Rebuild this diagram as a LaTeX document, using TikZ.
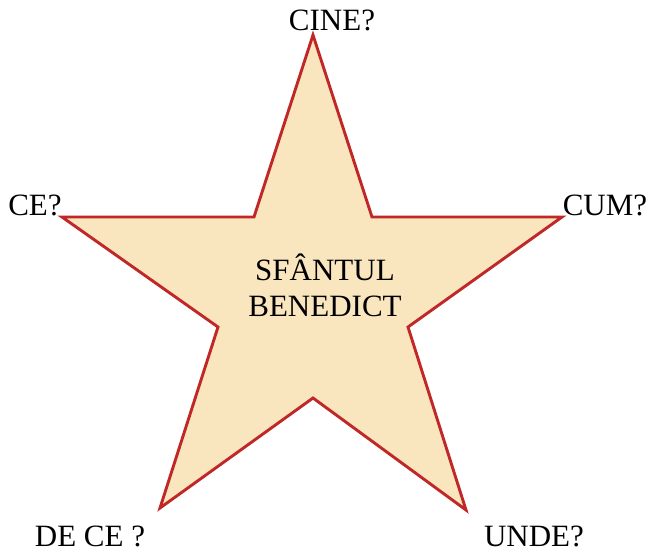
\documentclass[tikz,border=0pt]{standalone}
\usepackage{fontspec}
\setmainfont{Liberation Serif}
\usepackage{tikz}
\usetikzlibrary{positioning}
\definecolor{starred}{RGB}{192, 40, 40}
\definecolor{starfill}{RGB}{250, 230, 190}

\begin{document}
\begin{tikzpicture}[
    x=1pt, y=-1pt,
    every node/.style={font=\fontsize{31}{36}\selectfont, inner sep=0pt},
    question/.style={anchor=base, text depth=0pt},
    starline/.style={draw=starred, fill=starfill, line width=2.9pt, line join=miter}
]
\useasboundingbox (0,0) rectangle (648,552);
\draw[starline] (313,35) -- (372,217) -- (562,217) -- (408,327) -- (466,510)
    -- (313,398) -- (160,508) -- (218,327) -- (62,217) -- (254,217) -- cycle;
\node[align=center] (saint) at (325,285) {SFÂNTUL\\BENEDICT};
\node[question] (cine) at (332,30) {CINE?};
\node[question] (ce) at (35,215) {CE?};
\node[question] (cum) at (605,215) {CUM?};
\node[question] (dece) at (90,546) {DE CE ?};
\node[question] (unde) at (534,546) {UNDE?};
\end{tikzpicture}
\end{document}
